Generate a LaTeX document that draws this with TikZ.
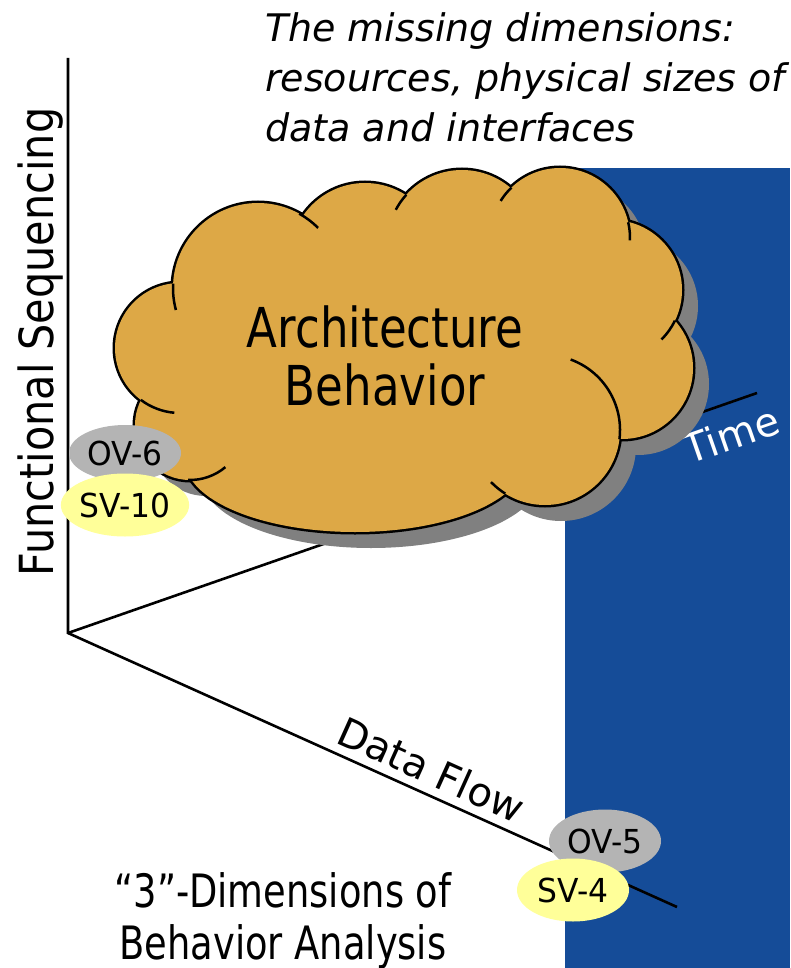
\documentclass[tikz,border=0pt]{standalone}
\usepackage{fontspec}
\setmainfont{DejaVu Sans}
\newfontfamily\cloudfont{DejaVu Sans}[FakeStretch=0.82]
\newfontfamily\axisfont{DejaVu Sans}[FakeStretch=0.88]
\newfontfamily\notefont{DejaVu Sans}[FakeStretch=0.80]
\newfontfamily\tagfont{DejaVu Sans}[FakeStretch=0.95]
\usepackage{tikz}
\usetikzlibrary{shapes.geometric}
\definecolor{planeB}{RGB}{21,76,152}
\definecolor{cloudY}{RGB}{221,168,70}
\definecolor{shadeG}{RGB}{128,128,128}
\definecolor{tagG}{RGB}{180,180,180}
\definecolor{tagY}{RGB}{255,255,153}
% puff circles of the cloud: x/y/radius
\newcommand\puffs{180/348/65,258/288/85,365/258/75,462/245/75,560/238/70,612/290/70,622/368/71,545/430/75,190/425/55}
% inner puff strokes: x/y/radius/start/end
\newcommand\puffedges{258/288/85/183/165,258/288/85/-61/-45,462/245/75/-138/-152,560/238/70/-134/-148,560/238/70/-13/2,612/290/70/26/45,545/430/75/7/-70,545/430/75/122/136,190/425/55/92/50,180/348/65/127/95}

\begin{document}
\begin{tikzpicture}[
  x=1pt,y=-1pt,
  axis/.style={line width=2.6pt,black},
  puffrim/.style={line width=5pt,black},
  puffline/.style={line width=2.5pt,black},
  ovtag/.style={ellipse,fill=tagG,minimum width=112pt,minimum height=56pt,inner sep=0pt,font=\tagfont\fontsize{33}{33}\selectfont},
  svtag/.style={ovtag,fill=tagY,minimum height=63pt},
  lbl/.style={font=\fontsize{40}{40}\selectfont,inner sep=2pt}
]
  \useasboundingbox (0,0) rectangle (790,968);
  % ---------------- PLANE ----------------
  \fill[planeB] (565,168) rectangle (790,968);
  % ---------------- AXES ----------------
  \coordinate (orig) at (68,633);
  \coordinate (fsTop) at (68,58);
  \coordinate (tEnd) at (757,393);
  \coordinate (dfEnd) at (677,907);
  \draw[axis] (fsTop) -- (orig) -- (dfEnd)
    node[lbl,pos=0.58,above=6pt,sloped] (dfLbl) {Data Flow};
  \draw[axis] (orig) -- (tEnd)
    node[lbl,pos=0.948,below=12pt,sloped,text=white] (tLbl) {Time};
  \node[font=\axisfont\fontsize{47}{47}\selectfont,rotate=90,anchor=base,inner sep=0pt] (fsLbl) at (53,342) {Functional Sequencing};
  % ---------------- CLOUD ----------------
  \begin{scope}[shift={(16,16)}]
    \foreach \cx/\cy/\r in \puffs {\fill[shadeG] (\cx,\cy) circle[radius=\r];}
    \fill[shadeG] (355,460) ellipse[x radius=170,y radius=72];
  \end{scope}
  \foreach \cx/\cy/\r in \puffs {\draw[puffrim] (\cx,\cy) circle[radius=\r];}
  \draw[puffrim] (355,460) ellipse[x radius=170,y radius=72];
  \foreach \cx/\cy/\r in \puffs {\fill[cloudY] (\cx,\cy) circle[radius=\r];}
  \fill[cloudY] (355,460) ellipse[x radius=170,y radius=72];
  \fill[cloudY] (405,340) ellipse[x radius=230,y radius=120];
  \foreach \cx/\cy/\r/\a/\b in \puffedges {
    \draw[puffline] ([shift={(\a:\r)}]\cx,\cy) arc[start angle=\a,end angle=\b,radius=\r];}
  \node[font=\cloudfont\fontsize{55}{58}\selectfont,align=center] (archTxt) at (385,356) {Architecture\\Behavior};
  % ---------------- TAGS ----------------
  \node[ovtag] (ov6) at (125,453) {OV-6};
  \node[svtag] (sv10) at (125,505) {SV-10};
  \node[ovtag,minimum height=63pt] (ov5) at (605,841) {OV-5};
  \node[svtag] (sv4) at (573,890) {SV-4};
  % ---------------- NOTES ----------------
  \node[anchor=north west,align=left,inner sep=0pt,font=\itshape\fontsize{38}{50}\selectfont] (miss) at (265,12)
    {The missing dimensions:\\resources, physical sizes of\\data and interfaces};
  \node[anchor=north,align=center,inner sep=0pt,font=\notefont\fontsize{46}{52}\selectfont] (dims) at (283,872)
    {“3”-Dimensions of\\Behavior Analysis};
\end{tikzpicture}
\end{document}
